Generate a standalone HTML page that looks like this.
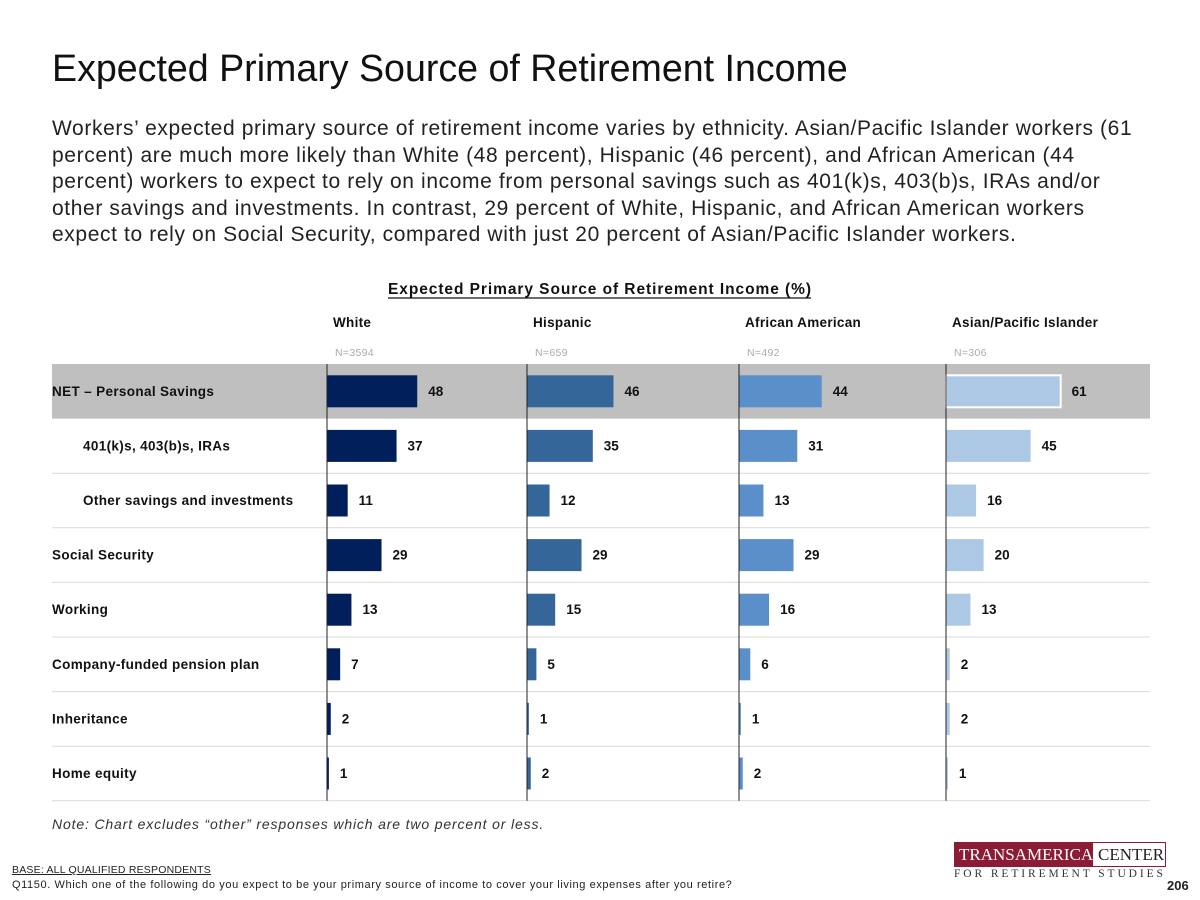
<!DOCTYPE html>
<html><head><meta charset="utf-8">
<style>
body{margin:0;background:#fff;font-family:"Liberation Sans",sans-serif;}
#wrap{position:relative;width:1200px;height:900px;overflow:hidden;}
.t{position:absolute;white-space:nowrap;}
</style></head><body>
<div id="wrap">
<div class="t" style="left:52px;top:47px;font-size:37.6px;color:#111;">Expected Primary Source of Retirement Income</div>
<div class="t" style="left:52px;top:116px;font-size:21px;letter-spacing:0.62px;line-height:26.5px;color:#222;">Workers’ expected primary source of retirement income varies by ethnicity. Asian/Pacific Islander workers (61<br>percent) are much more likely than White (48 percent), Hispanic (46 percent), and African American (44<br>percent) workers to expect to rely on income from personal savings such as 401(k)s, 403(b)s, IRAs and/or<br>other savings and investments. In contrast, 29 percent of White, Hispanic, and African American workers<br>expect to rely on Social Security, compared with just 20 percent of Asian/Pacific Islander workers.</div>
<svg id="chart" width="1200" height="900" style="position:absolute;left:0;top:0;font-family:'Liberation Sans',sans-serif;"></svg>
<div class="t" style="left:52px;top:816px;font-size:14px;letter-spacing:0.85px;font-style:italic;color:#333;">Note: Chart excludes “other” responses which are two percent or less.</div>
<div class="t" style="left:12px;top:864px;font-size:10.5px;letter-spacing:0.2px;color:#222;text-decoration:underline;">BASE: ALL QUALIFIED RESPONDENTS</div>
<div class="t" style="left:12px;top:879px;font-size:11px;letter-spacing:0.6px;color:#222;">Q1150. Which one of the following do you expect to be your primary source of income to cover your living expenses after you retire?</div>
<div style="position:absolute;left:954px;top:842px;width:210px;height:23px;border:1px solid #8c1c36;display:flex;">
<div class="t" style="position:static;background:#8c1c36;color:#fff;font-family:'Liberation Serif',serif;font-size:17px;line-height:23px;padding:0 4px;width:130px;">TRANSAMERICA</div>
<div class="t" style="position:static;color:#222;font-family:'Liberation Serif',serif;font-size:17px;line-height:23px;padding-left:5px;">CENTER</div></div>
<div class="t" style="left:954px;top:868px;font-family:'Liberation Serif',serif;font-size:11.5px;letter-spacing:2.9px;color:#333;">FOR RETIREMENT STUDIES</div>
<div class="t" style="left:1167px;top:878px;font-size:13px;font-weight:bold;color:#222;">206</div>
</div>
<script>
const categories=["NET – Personal Savings","401(k)s, 403(b)s, IRAs","Other savings and investments","Social Security","Working","Company-funded pension plan","Inheritance","Home equity"];
const groups=["White","Hispanic","African American","Asian/Pacific Islander"];
const sampleSizes=["N=3594","N=659","N=492","N=306"];
const whiteValues=[48,37,11,29,13,7,2,1];
const hispanicValues=[46,35,12,29,15,5,1,2];
const africanAmericanValues=[44,31,13,29,16,6,1,2];
const asianValues=[61,45,16,20,13,2,2,1];
const series=[whiteValues,hispanicValues,africanAmericanValues,asianValues];
const colors=["#001f5b","#35669a","#5a8fc9","#adc8e4"];
const indent=[false,true,true,false,false,false,false,false];
const svg=document.getElementById('chart');const NS='http://www.w3.org/2000/svg';
function mk(tag,attrs,txt){const e=document.createElementNS(NS,tag);for(const k in attrs)e.setAttribute(k,attrs[k]);if(txt!=null)e.textContent=txt;svg.appendChild(e);return e;}
const axisX=[327,527,739,946];const top0=364,rowH=54.6,scale=1.88,barH=32;
const rowY=i=>top0+i*rowH;const xS=(g,v)=>v*scale;
let e=mk('rect',{x:52,y:top0,width:1098,height:rowH,fill:'#bfbfbf'});

e=mk('text',{x:388,y:294,'font-size':15.5,'font-weight':'bold',fill:'#111',textLength:423,lengthAdjust:'spacing'},'Expected Primary Source of Retirement Income (%)');

e=mk('line',{x1:388,x2:811,y1:298,y2:298,stroke:'#111','stroke-width':1.2});

categories.forEach((c,i)=>{
 const cy=rowY(i)+rowH/2;
 const t=mk('text',{x:indent[i]?83:52,y:cy+4.5,'font-size':13.5,'letter-spacing':0.35,'font-weight':'bold',fill:'#111'},c);
 
 if(i>0){const l=mk('line',{x1:52,x2:1150,y1:rowY(i+1),y2:rowY(i+1),stroke:'#d9d9d9','stroke-width':1});
 }
});
groups.forEach((g,gi)=>{
 const x0=axisX[gi];
 let t=mk('text',{x:x0+6,y:327,'font-size':13.5,'letter-spacing':0.3,'font-weight':'bold',fill:'#111'},g);
 
 t=mk('text',{x:x0+8,y:356,'font-size':10.5,'letter-spacing':0.3,fill:'#aaa'},sampleSizes[gi]);
 
 series[gi].forEach((v,i)=>{
  const cy=rowY(i)+rowH/2;const w=xS(gi,v);
  const r=mk('rect',{x:x0,y:cy-barH/2,width:w,height:barH,fill:colors[gi]});
  if(gi===3&&i===0){r.setAttribute('stroke','#fff');r.setAttribute('stroke-width',2);}
  
  const lb=mk('text',{x:x0+w+11,y:cy+4.5,'font-size':13.5,'font-weight':'bold',fill:'#111'},String(v));
  
 });
 const ax=mk('line',{x1:x0,x2:x0,y1:top0,y2:rowY(categories.length),stroke:'#222','stroke-width':1});
 
});
</script>
</body></html>
